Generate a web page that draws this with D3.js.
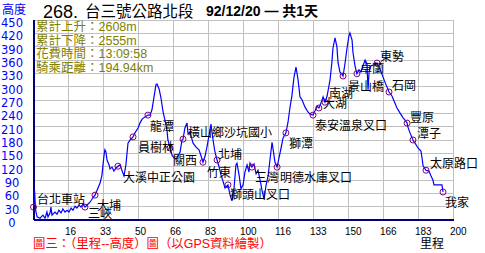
<!DOCTYPE html>
<html>
<head>
<meta charset="utf-8">
<script src="https://cdn.jsdelivr.net/npm/d3@7"></script>
<style>
body { margin: 0; background: #fff; }
text { font-family: "Liberation Sans", "Noto Sans CJK TC", sans-serif; }
</style>
</head>
<body>
<script>

// Elevation profile (km, m)
var profileKm = [0, 0.5, 1.0, 1.7, 3.1, 4.5, 5.5, 6.4, 6.9, 7.9, 8.3, 8.8, 10.2, 11.2, 12.1, 13.1, 14.0, 15.0, 16.0, 16.9,
    17.9, 18.8, 19.8, 20.7, 21.7, 22.6, 23.6, 24.5, 26.0, 26.9, 28.3, 29.3, 30.7, 31.7, 32.6, 33.1, 33.6, 34.0, 34.5, 35.0,
    36.0, 36.4, 37.4, 38.3, 39.3, 40.2, 41.2, 42.1, 43.1, 44.0, 45.0, 46.0, 47.4, 48.3, 49.8, 50.7, 51.7, 53.1, 54.5, 55.5,
    56.4, 57.4, 58.3, 58.8, 59.8, 60.7, 61.7, 62.6, 63.6, 64.0, 65.0, 66.0, 66.9, 67.9, 68.8, 69.8, 70.7, 71.2, 72.1, 73.1,
    73.6, 74.5, 76.0, 77.4, 78.8, 79.8, 80.7, 81.7, 82.6, 83.6, 84.5, 85.5, 86.4, 87.4, 88.3, 89.3, 90.2, 91.2, 92.6, 93.6,
    94.5, 95.5, 96.4, 96.9, 97.9, 98.8, 99.8, 100.7, 101.7, 102.6, 103.1, 104.0, 105.0, 106.0, 106.9, 107.9, 108.8, 109.8, 110.7, 111.7,
    112.6, 113.6, 114.5, 115.0, 116.0, 116.9, 117.9, 118.8, 120.2, 121.2, 122.1, 123.1, 124.0, 125.0, 126.0, 126.9, 127.9, 129.3, 130.7, 131.7,
    133.1, 134.0, 135.0, 135.9, 136.9, 137.9, 138.8, 139.8, 141.2, 142.1, 142.6, 143.6, 144.5, 145.0, 145.9, 146.9, 147.4, 148.3, 149.3, 150.2,
    150.7, 151.7, 152.1, 153.1, 154.0, 155.0, 155.9, 156.9, 157.9, 158.8, 159.3, 159.8, 160.7, 162.1, 163.6, 165.0, 166.4, 167.9, 169.3, 170.7,
    171.7, 173.1, 174.5, 176.0, 176.9, 177.9, 178.3, 179.3, 180.7, 181.7, 183.1, 184.5, 185.0, 185.5, 186.9, 188.3, 189.3, 190.2, 190.7, 194.5,
    195.0];
var profileElev = [29, 67, 22, 7, 4, 11, 4, 18, 7, 16, 29, 11, 18, 13, 22, 16, 25, 18, 22, 18,
    27, 22, 31, 27, 34, 29, 36, 29, 36, 40, 50, 56, 72, 83, 101, 124, 146, 158, 153, 135,
    124, 115, 119, 110, 117, 121, 124, 112, 99, 124, 173, 180, 187, 196, 207, 218, 227, 232, 236, 236,
    248, 277, 304, 306, 295, 275, 243, 225, 200, 180, 162, 146, 140, 137, 144, 153, 180, 182, 207, 218,
    194, 198, 173, 164, 158, 144, 130, 144, 164, 191, 216, 180, 153, 135, 121, 101, 88, 72, 79, 56,
    43, 72, 124, 128, 101, 70, 79, 108, 124, 108, 128, 119, 126, 104, 112, 90, 67, 47, 77, 99,
    135, 175, 146, 130, 119, 140, 162, 184, 196, 220, 252, 281, 320, 344, 315, 277, 270, 254, 243, 238,
    236, 245, 256, 252, 263, 277, 265, 279, 315, 355, 387, 410, 389, 355, 333, 328, 324, 351, 387, 414,
    421, 405, 378, 347, 329, 338, 333, 347, 360, 351, 293, 333, 347, 349, 353, 340, 322, 304, 288, 279,
    268, 252, 241, 230, 225, 218, 209, 196, 180, 173, 162, 155, 140, 122, 112, 110, 99, 90, 79, 79,
    63];

// Waypoints along the route
var stopNames = ["台北車站", "三峽", "大埔", "大溪中正公園", "員樹林", "龍潭", "關西", "橫山鄉沙坑國小", "竹東", "北埔",
    "獅頭山叉口", "三灣", "明德水庫叉口", "獅潭", "泰安溫泉叉口", "大湖", "南湖", "景山橋", "卓蘭", "東勢",
    "石岡", "豐原", "潭子", "太原路口", "我家"];
var stopKm = [0, 24.5, 29.3, 40.2, 47.4, 54.5, 65.0, 71.2, 80.7, 87.4,
    92.6, 104.0, 116.0, 120.2, 133.1, 135.9, 138.8, 147.4, 154.0, 163.6,
    169.3, 177.9, 180.7, 186.9, 195.0];
var stopElev = [29, 29, 56, 121, 187, 236, 162, 182, 130, 135,
    79, 119, 119, 196, 236, 252, 265, 324, 329, 353,
    288, 218, 180, 112, 63];

// Summary lines
var statLines = ["累計上升：2608m", "累計下降：2555m", "花費時間：13:09:58", "騎乘距離：194.94km"];

// Axis ticks
var yTickValues = [0, 30, 60, 90, 120, 150, 180, 210, 240, 270, 300, 330, 360, 390, 420, 450];
var xTickLabels = ["16", "33", "50", "66", "83", "100", "116", "133", "150", "166", "183", "200"];

// Where each label sits relative to its circle [dx, dy]
var labelOffset = [[3.5, -3], [3, 11], [2, 15], [5, 16], [5, 15], [2, 16], [3, 17], [5, -2], [4, 15], [1, -1],
    [2, 14], [3, 15], [3, 15], [3, 15], [2, 15], [4, 0], [4, -4], [5, 15], [3, -1], [3, -2],
    [3, -2], [3, -1], [4, -2], [4, -2], [2, 15]];

var width = 485, height = 253;

var svg = d3.select("body").
            append("svg").
            attr("width", width).
            attr("height", height).
            style("display", "block");

svg.append("rect").attr("width", width).attr("height", height).attr("fill", "#fff");

// Scales
var x = d3.scaleLinear().domain([0, 200]).range([33.5, 453.5]),
    y = d3.scaleLinear().domain([0, 450]).range([220, 20]);

var xTickValues = xTickLabels.map(function(d, i) { return (i + 1) * 200 / 12; });

// Grid lines
svg.append("g").
    attr("transform", "translate(0,220)").
    call(d3.axisBottom(x).offset(0).tickValues(xTickValues).tickSize(-200).tickFormat("")).
    call(function(g) { g.select(".domain").remove(); }).
    selectAll("line").
    attr("stroke", "#c0c0c0").
    attr("shape-rendering", "crispEdges");

svg.append("g").
    attr("transform", "translate(33.5,0)").
    call(d3.axisLeft(y).offset(0).tickValues(yTickValues.slice(1)).tickSize(-420).tickFormat("")).
    call(function(g) { g.select(".domain").remove(); }).
    selectAll("line").
    attr("stroke", "#c0c0c0").
    attr("shape-rendering", "crispEdges");

// Y axis labels
var yAxis = svg.append("g").
    attr("transform", "translate(33.5,0)").
    call(d3.axisLeft(y).offset(0).tickValues(yTickValues).tickSize(0).tickPadding(21.5));
yAxis.select(".domain").
    attr("stroke", "#000080").
    attr("stroke-width", 2).
    attr("shape-rendering", "crispEdges");
yAxis.selectAll("text").
    attr("text-anchor", "middle").
    attr("dy", "0.62em").
    attr("fill", "#0000ff").
    style("font-family", "DejaVu Sans").
    style("font-size", "11.5px");

// X axis labels
var xAxis = svg.append("g").
    attr("transform", "translate(0,220)").
    call(d3.axisBottom(x).offset(0).tickValues(xTickValues).tickSize(0).tickPadding(8).
        tickFormat(function(d, i) { return xTickLabels[i]; }));
xAxis.select(".domain").
    attr("d", "M" + x(0) + ",0H" + x(200)).
    attr("stroke", "#000080").
    attr("stroke-width", 2).
    attr("shape-rendering", "crispEdges");
xAxis.selectAll("text").
    attr("text-anchor", "start").
    attr("x", -3.5).
    attr("fill", "#000").
    style("font-size", "10px");

// Profile line
var profile = profileKm.map(function(d, i) { return [d, profileElev[i]]; });
var line = d3.line().
    x(function(d) { return x(d[0]); }).
    y(function(d) { return y(d[1]); });

svg.append("path").
    datum(profile).
    attr("d", line).
    attr("fill", "none").
    attr("stroke", "#0000ff").
    attr("stroke-width", 1.2);

// Waypoint circles
var stops = stopNames.map(function(d, i) {
    return { name: d, km: stopKm[i], elev: stopElev[i], off: labelOffset[i] };
});

svg.selectAll("circle.stop").
    data(stops).
    enter().append("circle").
    attr("class", "stop").
    attr("cx", function(d) { return x(d.km); }).
    attr("cy", function(d) { return y(d.elev); }).
    attr("r", 3).
    attr("fill", "none").
    attr("stroke", "#800080").
    attr("stroke-width", 1);

svg.selectAll("text.stop").
    data(stops).
    enter().append("text").
    attr("class", "stop").
    attr("x", function(d) { return x(d.km) + d.off[0]; }).
    attr("y", function(d) { return y(d.elev) + d.off[1]; }).
    style("font-family", "Noto Sans CJK TC").
    style("font-size", "12px").
    attr("fill", "#000").
    text(function(d) { return d.name; });

// Summary box
svg.selectAll("text.stat").
    data(statLines).
    enter().append("text").
    attr("class", "stat").
    attr("x", 36).
    attr("y", function(d, i) { return 31 + i * 13.5; }).
    attr("fill", "#808000").
    style("font-size", "12.5px").
    text(function(d) { return d; });

// Titles
svg.append("text").attr("x", 2).attr("y", 13.5).attr("fill", "#0000ff").
    style("font-size", "12px").text("高度");
svg.append("text").attr("x", 43).attr("y", 18).attr("fill", "#000").
    style("font-size", "18px").text("268.");
svg.append("text").attr("x", 85).attr("y", 17).attr("fill", "#000").
    style("font-size", "15.5px").text("台三號公路北段");
svg.append("text").attr("x", 206).attr("y", 16).attr("fill", "#000").
    style("font-size", "14px").style("font-weight", "bold").text("92/12/20 — 共1天");
svg.append("text").attr("x", 33).attr("y", 248).attr("fill", "#ff0000").
    style("font-size", "12.4px").text("圖三：（里程--高度）圖（以GPS資料繪製）");
svg.append("text").attr("x", 420).attr("y", 248).attr("fill", "#000").
    style("font-size", "12px").text("里程");

</script>
</body>
</html>
